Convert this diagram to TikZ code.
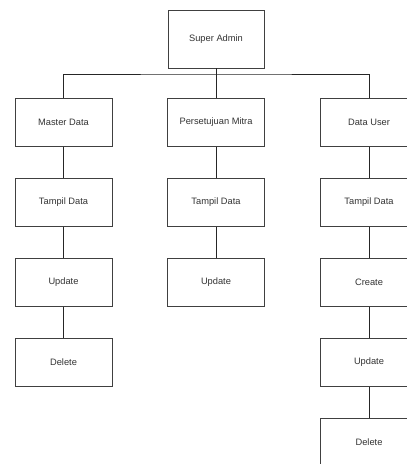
\documentclass[tikz,border=0pt]{standalone}
\usepackage{fontspec}
\setmainfont{Liberation Sans}
\begin{document}
\begin{tikzpicture}[x=1pt,y=-1pt,
  box/.style={draw=black!75, line width=0.8pt, fill=white, minimum width=97pt, minimum height=48.5pt, inner sep=0pt,
    font=\fontsize{9.3}{11}\selectfont, text=black!80},
  conn/.style={draw=black!85, line width=0.8pt}]
\clip (0,0) rectangle (407,464);
\fill[white] (0,0) rectangle (407,464);
% top
\node[box, minimum width=96pt, minimum height=58pt] (sa) at (216,39) {Super Admin};
% columns
\node[box] (md) at (63.5,122.3) {Master Data};
\node[box] (pm) at (216,122.3) {Persetujuan Mitra};
\node[box] (du) at (369,122.3) {Data User};
% column 1
\node[box] (md1) at (63.5,202.5) {Tampil Data};
\node[box] (md2) at (63.5,282.5) {Update};
\node[box] (md3) at (63.5,362.5) {Delete};
% column 2
\node[box] (pm1) at (216,202.5) {Tampil Data};
\node[box] (pm2) at (216,282.5) {Update};
% column 3
\node[box] (du1) at (369,202.5) {Tampil Data};
\node[box] (du2) at (369,282.5) {Create};
\node[box] (du3) at (369,362.5) {Update};
\node[box] (du4) at (369,442.5) {Delete};
% connectors
\coordinate (bar) at (216,74);
\draw[conn] (sa.south) -- (pm.north);
\draw[conn] (md.north) |- (bar) -| (du.north);
\draw[conn] (md) -- (md1);
\draw[conn] (md1) -- (md2);
\draw[conn] (md2) -- (md3);
\draw[conn] (pm) -- (pm1);
\draw[conn] (pm1) -- (pm2);
\draw[conn] (du) -- (du1);
\draw[conn] (du1) -- (du2);
\draw[conn] (du2) -- (du3);
\draw[conn] (du3) -- (du4);
\end{tikzpicture}
\end{document}
